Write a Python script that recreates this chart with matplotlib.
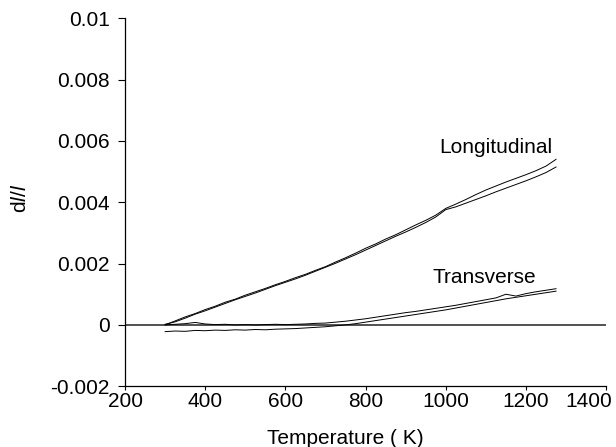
import matplotlib
matplotlib.use('Agg')
import matplotlib.pyplot as plt
import matplotlib.transforms as mtransforms

plt.rcParams['font.family'] = ['Liberation Sans', 'DejaVu Sans']
plt.rcParams['mathtext.fontset'] = 'custom'
plt.rcParams['mathtext.it'] = 'Liberation Sans:italic'
plt.rcParams['mathtext.rm'] = 'Liberation Sans'

# temperature grid (K), read every 25 K
temps = [300, 325, 350, 375, 400, 425, 450, 475, 500, 525,
         550, 575, 600, 625, 650, 675, 700, 725, 750, 775,
         800, 825, 850, 875, 900, 925, 950, 975, 1000, 1025,
         1050, 1075, 1100, 1125, 1150, 1175, 1200, 1225, 1250, 1275]

# longitudinal, heating and cooling branches
long_heat = [0.00000, 0.00013, 0.00026, 0.00037, 0.00050, 0.00061, 0.00074, 0.00084, 0.00097, 0.00108,
             0.00119, 0.00131, 0.00142, 0.00154, 0.00165, 0.00178, 0.00190, 0.00205, 0.00219, 0.00234,
             0.00250, 0.00264, 0.00280, 0.00294, 0.00310, 0.00326, 0.00341, 0.00358, 0.00380, 0.00394,
             0.00409, 0.00425, 0.00440, 0.00453, 0.00466, 0.00478, 0.00490, 0.00503, 0.00518, 0.00540]
long_cool = [0.00002, 0.00010, 0.00022, 0.00035, 0.00046, 0.00058, 0.00070, 0.00082, 0.00093, 0.00104,
             0.00116, 0.00128, 0.00139, 0.00150, 0.00162, 0.00175, 0.00188, 0.00201, 0.00215, 0.00229,
             0.00244, 0.00259, 0.00274, 0.00289, 0.00303, 0.00318, 0.00334, 0.00352, 0.00376, 0.00385,
             0.00397, 0.00409, 0.00421, 0.00434, 0.00446, 0.00458, 0.00470, 0.00483, 0.00497, 0.00515]

# transverse, heating and cooling branches
trans_heat = [0.00000, 0.00002, 0.00004, 0.00008, 0.00003, 0.00001, 0.00002, 0.00000, 0.00001, 0.00000,
              0.00001, 0.00002, 0.00001, 0.00002, 0.00003, 0.00005, 0.00006, 0.00009, 0.00012, 0.00016,
              0.00020, 0.00025, 0.00030, 0.00035, 0.00040, 0.00044, 0.00049, 0.00054, 0.00059, 0.00064,
              0.00070, 0.00076, 0.00082, 0.00088, 0.00100, 0.00094, 0.00102, 0.00108, 0.00113, 0.00118]
trans_cool = [-0.00022, -0.00020, -0.00021, -0.00018, -0.00019, -0.00017, -0.00018, -0.00016, -0.00017, -0.00015,
              -0.00016, -0.00014, -0.00013, -0.00012, -0.00010, -0.00008, -0.00006, -0.00003, 0.00000, 0.00004,
              0.00009, 0.00014, 0.00019, 0.00024, 0.00029, 0.00034, 0.00039, 0.00044, 0.00049, 0.00055,
              0.00061, 0.00067, 0.00073, 0.00079, 0.00085, 0.00090, 0.00095, 0.00100, 0.00105, 0.00110]

x_ticks = [200, 400, 600, 800, 1000, 1200, 1400]
y_ticks = [-0.002, 0, 0.002, 0.004, 0.006, 0.008, 0.01]
y_tick_labels = ['-0.002', '0', '0.002', '0.004', '0.006', '0.008', '0.01']

fig = plt.figure(figsize=(6.16, 4.47), dpi=100)
ax = fig.add_axes([0.203, 0.136, 0.781, 0.823])

ax.axhline(0, color='#222222', lw=1.1)
ax.plot(temps, long_heat, color='black', lw=0.7)
ax.plot(temps, long_cool, color='black', lw=0.7)
ax.plot(temps, trans_heat, color='black', lw=0.7)
ax.plot(temps, trans_cool, color='black', lw=0.7)

ax.text(1125, 0.0058, 'Longitudinal', fontsize=15, ha='center', va='center')
ax.text(1097, 0.00155, 'Transverse', fontsize=15, ha='center', va='center')

ax.set_xlim(200, 1400)
ax.set_ylim(-0.002, 0.01)
ax.set_xticks(x_ticks)
ax.set_yticks(y_ticks)
ax.set_yticklabels(y_tick_labels)
ax.tick_params(labelsize=15, direction='out', length=5, width=0.8)
ax.tick_params(axis='y', pad=6)
ax.tick_params(axis='x', length=3, pad=1)

# last x label is pulled in so it stays on the page
last = ax.get_xticklabels()[-1]
last.set_transform(last.get_transform() + mtransforms.ScaledTranslation(-17 / 100, 0, fig.dpi_scale_trans))

for side in ['top', 'right']:
    ax.spines[side].set_visible(False)
for side in ['left', 'bottom']:
    ax.spines[side].set_linewidth(0.9)

ax.set_xlabel('Temperature ( K)', fontsize=15)
ax.xaxis.set_label_coords(0.457, -0.115)
ax.set_ylabel('d$\\it{l}$/$\\it{l}$', fontsize=15)
ax.yaxis.set_label_coords(-0.198, 0.51)

fig.savefig('out.png', dpi=100)
